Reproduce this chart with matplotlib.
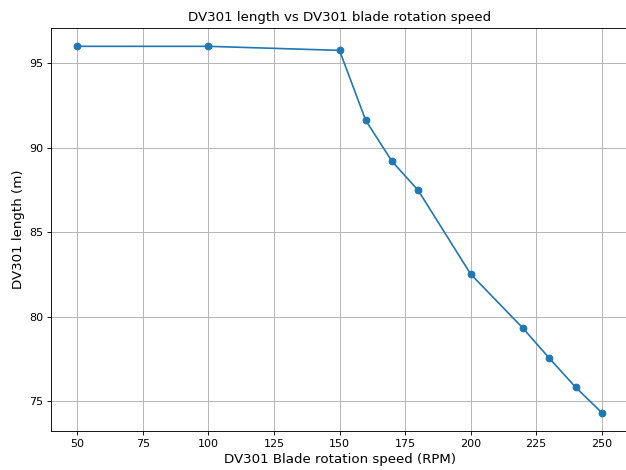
import matplotlib
matplotlib.use("Agg")
import matplotlib.pyplot as plt

speed_rpm = [50, 100, 150, 160, 170, 180, 200, 220, 230, 240, 250]
length_m = [96.0, 96.0, 95.76, 91.62, 89.2, 87.48, 82.53, 79.32, 77.55, 75.84, 74.33]

DPI = 80
fig = plt.figure(figsize=(626 / DPI, 470 / DPI), dpi=DPI)
ax = fig.add_axes([51/626, 39/470, 577/626, 403/470])
ax.plot(speed_rpm, length_m, marker='o', color='#1f77b4')
ax.set_title("DV301 length vs DV301 blade rotation speed", fontsize=12)
ax.set_xlabel("DV301 Blade rotation speed (RPM)", fontsize=12)
ax.set_ylabel("DV301 length (m)", fontsize=12)
ax.grid(True)
fig.savefig("out.png", dpi=DPI)
